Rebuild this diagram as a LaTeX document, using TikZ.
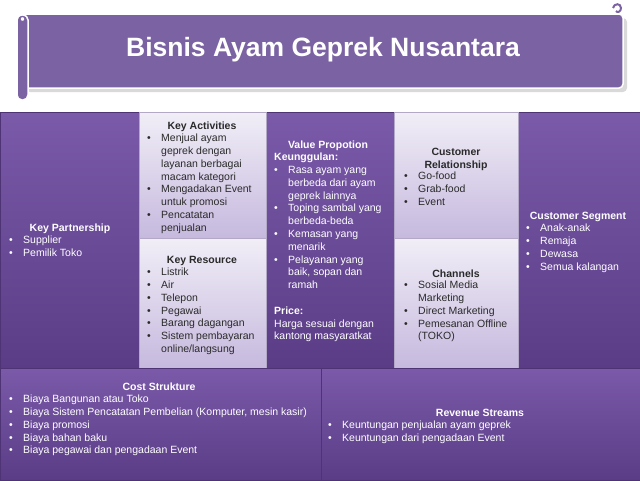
\documentclass[tikz,border=0pt]{standalone}
\usepackage{fontspec}
\setmainfont{Liberation Sans}

\definecolor{banner}{HTML}{7B62A2}
\definecolor{darktop}{HTML}{7A5AA9}
\definecolor{darkbot}{HTML}{5A3C86}
\definecolor{lighttop}{HTML}{F1EEF7}
\definecolor{lightbot}{HTML}{C6B9DE}
\definecolor{cellline}{HTML}{4E3474}
\definecolor{lightline}{HTML}{B3A9C6}
\definecolor{inktext}{HTML}{2A2A2A}

\newcommand{\bul}{\makebox[14pt][l]{\textbullet}}
\newcommand{\ind}{\hspace*{14pt}}

\tikzset{
  cell/.style={anchor=north west, inner sep=0, outer sep=0, draw=cellline,
    line width=0.6pt, top color=darktop, bottom color=darkbot},
  lightcell/.style={cell, draw=lightline, top color=lighttop, bottom color=lightbot},
  head/.style={anchor=base, inner sep=0, text=white,
    font=\fontsize{10.5}{12.8}\selectfont\bfseries},
  list/.style={anchor=north west, align=left, inner sep=0, text=white,
    font=\fontsize{10.5}{12.8}\selectfont},
  ink/.style={text=inktext}
}

\begin{document}
\begin{tikzpicture}[x=1pt,y=-1pt]
  \useasboundingbox[fill=white] (0,0) rectangle (640,480);

  % title scroll
  \fill[black!15, rounded corners=4pt] (26,18) rectangle (627,92);
  \draw[white, line width=1.5pt, fill=banner, rounded corners=4pt] (23,14) rectangle (623,88);
  \draw[white, line width=1.5pt, fill=banner, rounded corners=5pt] (17,15) rectangle (28,100);
  \draw[banner, line width=1.2pt, fill=white] (22.5,19) circle (2.6pt);
  \draw[banner, line width=2pt] (613,8) .. controls (614,3) and (621,3) .. (621,8)
    .. controls (621,12) and (617,13) .. (616,11);
  \node[text=white, font=\fontsize{26.5}{30}\selectfont\bfseries] (title) at (323,50)
    {Bisnis Ayam Geprek Nusantara};

  % canvas cells
  \node[cell, minimum width=139pt, minimum height=256pt] (kp) at (0,112) {};
  \node[cell, minimum width=128pt, minimum height=256pt] (vp) at (266,112) {};
  \node[cell, minimum width=122pt, minimum height=256pt] (cs) at (518,112) {};
  \node[lightcell, minimum width=127pt, minimum height=126pt] (ka) at (139,112) {};
  \node[lightcell, minimum width=127pt, minimum height=130pt] (kr) at (139,238) {};
  \node[lightcell, minimum width=124pt, minimum height=126pt] (cr) at (394,112) {};
  \node[lightcell, minimum width=124pt, minimum height=130pt] (ch) at (394,238) {};
  \node[cell, minimum width=321pt, minimum height=112pt] (cost) at (0,368) {};
  \node[cell, minimum width=319pt, minimum height=112pt] (rev) at (321,368) {};

  % key partnership
  \node[head] (kph) at (70,231) {Key Partnership};
  \node[list] (kpl) at (9,234.5) {\strut\bul Supplier\\ \bul Pemilik Toko};

  % key activities
  \node[head, ink] (kah) at (202,129) {Key Activities};
  \node[list, ink] (kal) at (147,132.5) {\strut\bul Menjual ayam\\ \ind geprek dengan\\
    \ind layanan berbagai\\ \ind macam kategori\\ \bul Mengadakan Event\\
    \ind untuk promosi\\ \bul Pencatatan\\ \ind penjualan};

  % key resource
  \node[head, ink] (krh) at (202,263) {Key Resource};
  \node[list, ink] (krl) at (147,266.5) {\strut\bul Listrik\\ \bul Air\\ \bul Telepon\\
    \bul Pegawai\\ \bul Barang dagangan\\ \bul Sistem pembayaran\\ \ind online/langsung};

  % value proposition
  \node[head] (vph) at (328,148) {Value Propotion};
  \node[list] (vpl) at (274,151.5) {\strut\textbf{Keunggulan:}\\ \bul Rasa ayam yang\\
    \ind berbeda dari ayam\\ \ind geprek lainnya\\ \bul Toping sambal yang\\
    \ind berbeda-beda\\ \bul Kemasan yang\\ \ind menarik\\ \bul Pelayanan yang\\
    \ind baik, sopan dan\\ \ind ramah\\[12.8pt] \textbf{Price:}\\
    Harga sesuai dengan\\ kantong masyaratkat};

  % customer relationship
  \node[head, ink, anchor=north, align=center] (crh) at (456,146.5)
    {\strut Customer\\ Relationship};
  \node[list, ink] (crl) at (404,170.5) {\strut\bul Go-food\\ \bul Grab-food\\ \bul Event};

  % channels
  \node[head, ink] (chh) at (456,277) {Channels};
  \node[list, ink] (chl) at (404,279.5) {\strut\bul Sosial Media\\ \ind Marketing\\
    \bul Direct Marketing\\ \bul Pemesanan Offline\\ \ind (TOKO)};

  % customer segment
  \node[head] (csh) at (578,219) {Customer Segment};
  \node[list] (csl) at (526,222.5) {\strut\bul Anak-anak\\ \bul Remaja\\ \bul Dewasa\\
    \bul Semua kalangan};

  % cost structure
  \node[head] (costh) at (159,390) {Cost Strukture};
  \node[list] (costl) at (9,393.5) {\strut\bul Biaya Bangunan atau Toko\\
    \bul Biaya Sistem Pencatatan Pembelian (Komputer, mesin kasir)\\
    \bul Biaya promosi\\ \bul Biaya bahan baku\\ \bul Biaya pegawai dan pengadaan Event};

  % revenue streams
  \node[head] (revh) at (480,416) {Revenue Streams};
  \node[list] (revl) at (328,419.5) {\strut\bul Keuntungan penjualan ayam geprek\\
    \bul Keuntungan dari pengadaan Event};
\end{tikzpicture}
\end{document}
